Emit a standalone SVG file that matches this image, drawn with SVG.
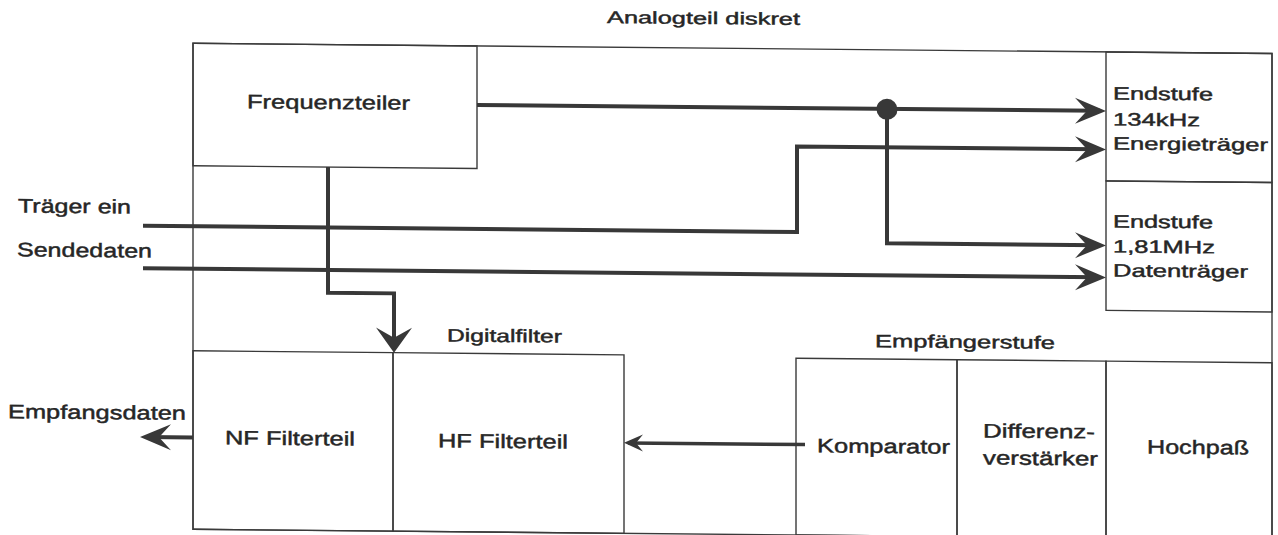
<svg xmlns="http://www.w3.org/2000/svg" width="1278" height="535" viewBox="0 0 1278 535">
<style>
  .box { fill: none; stroke: #3a3a3a; stroke-width: 1.4; }
  .ln { fill: none; stroke: #383838; stroke-width: 4; stroke-linejoin: miter; }
  .t { font-family: "Liberation Sans", Arial, sans-serif; font-size: 19.5px; fill: #262626; stroke: #262626; stroke-width: 0.45px; }
  .s { font-size: 18px; }
  .x { font-size: 17px; }
</style>
<defs>
  <marker id="arrowL" markerUnits="userSpaceOnUse" markerWidth="44" markerHeight="32" viewBox="-34 -16 44 32" refX="-6" refY="0" orient="auto" overflow="visible">
    <path d="M0,0 L-31,-13 L-19,0 L-31,13 Z" fill="#383838"/>
  </marker>
  <marker id="arrowD" markerUnits="userSpaceOnUse" markerWidth="40" markerHeight="44" viewBox="-30 -21 40 42" refX="-6" refY="0" orient="auto" overflow="visible">
    <path d="M0,0 L-25,-18 L-15,0 L-25,18 Z" fill="#383838"/>
  </marker>
  <marker id="arrowS" markerUnits="userSpaceOnUse" markerWidth="30" markerHeight="22" viewBox="-22 -11 30 22" refX="-4" refY="0" orient="auto" overflow="visible">
    <path d="M0,0 L-19,-8.5 L-12,0 L-19,8.5 Z" fill="#383838"/>
  </marker>
</defs>
<rect width="1278" height="535" fill="#ffffff"/>
<g transform="translate(0 -6.08) skewY(0.544)">
  <text class="t x" x="607" y="23.4" textLength="193" lengthAdjust="spacingAndGlyphs">Analogteil diskret</text>
  <g id="frame"><rect class="box" x="193" y="47.5" width="1079" height="486"/></g>
  <g id="frequenzteiler">
    <rect class="box" x="193" y="47.5" width="284" height="122.5"/>
    <text class="t" x="247" y="112" textLength="163" lengthAdjust="spacingAndGlyphs">Frequenzteiler</text>
  </g>
  <g id="endstufe134">
    <rect class="box" x="1106" y="47.5" width="166" height="129"/>
    <text class="t s" x="1113" y="95" textLength="100" lengthAdjust="spacingAndGlyphs">Endstufe</text>
    <text class="t s" x="1113" y="121" textLength="87" lengthAdjust="spacingAndGlyphs">134kHz</text>
    <text class="t s" x="1113" y="145" textLength="155" lengthAdjust="spacingAndGlyphs">Energieträger</text>
  </g>
  <g id="endstufe181">
    <rect class="box" x="1106" y="176.5" width="166" height="129.5"/>
    <text class="t s" x="1113" y="223" textLength="100" lengthAdjust="spacingAndGlyphs">Endstufe</text>
    <text class="t s" x="1113" y="248" textLength="102" lengthAdjust="spacingAndGlyphs">1,81MHz</text>
    <text class="t s" x="1113" y="272" textLength="135" lengthAdjust="spacingAndGlyphs">Datenträger</text>
  </g>
  <g id="digitalfilter">
    <text class="t s" x="447" y="343.3" textLength="115" lengthAdjust="spacingAndGlyphs">Digitalfilter</text>
  </g>
  <g id="nf">
    <rect class="box" x="193" y="355" width="200" height="178.5"/>
    <text class="t" x="225" y="448.3" textLength="130" lengthAdjust="spacingAndGlyphs">NF Filterteil</text>
  </g>
  <g id="hf">
    <rect class="box" x="393" y="355" width="231" height="178.5"/>
    <text class="t" x="438" y="449.3" textLength="130" lengthAdjust="spacingAndGlyphs">HF Filterteil</text>
  </g>
  <g id="empfaengerstufe">
    <text class="t s" x="875" y="344.9" textLength="180" lengthAdjust="spacingAndGlyphs">Empfängerstufe</text>
  </g>
  <g id="komparator">
    <rect class="box" x="796" y="356.7" width="161" height="176.8"/>
    <text class="t" x="817" y="450.7" textLength="133" lengthAdjust="spacingAndGlyphs">Komparator</text>
  </g>
  <g id="differenzverstaerker">
    <rect class="box" x="957" y="356.7" width="149" height="176.8"/>
    <text class="t" x="983" y="434.2" textLength="112" lengthAdjust="spacingAndGlyphs">Differenz-</text>
    <text class="t" x="983" y="461.2" textLength="115" lengthAdjust="spacingAndGlyphs">verstärker</text>
  </g>
  <g id="hochpass">
    <rect class="box" x="1106" y="356.7" width="166" height="176.8"/>
    <text class="t" x="1147" y="448.7" textLength="102" lengthAdjust="spacingAndGlyphs">Hochpaß</text>
  </g>
  <g id="inputs">
    <text class="t" x="18" y="218.4" textLength="113" lengthAdjust="spacingAndGlyphs">Träger ein</text>
    <text class="t" x="17" y="262.3" textLength="135" lengthAdjust="spacingAndGlyphs">Sendedaten</text>
    <text class="t" x="8" y="424.2" textLength="178" lengthAdjust="spacingAndGlyphs">Empfangsdaten</text>
  </g>
  <g id="connectors">
    <path class="ln" d="M477,106.5 H1100" marker-end="url(#arrowL)"/>
    <circle cx="887" cy="107" r="10.5" fill="#383838"/>
    <path class="ln" d="M887,107 V241 H1100" marker-end="url(#arrowL)"/>
    <path class="ln" d="M143,230.5 H797 V145 H1100" marker-end="url(#arrowL)"/>
    <path class="ln" d="M143,273 H1100" marker-end="url(#arrowL)"/>
    <path class="ln" d="M328,170 V295.7 H394 V349" marker-end="url(#arrowD)"/>
    <path class="ln" d="M193,441.8 H146" marker-end="url(#arrowL)"/>
    <path class="ln" style="stroke-width:3.5" d="M805,443 H628" marker-end="url(#arrowS)"/>
  </g>
</g>
</svg>
